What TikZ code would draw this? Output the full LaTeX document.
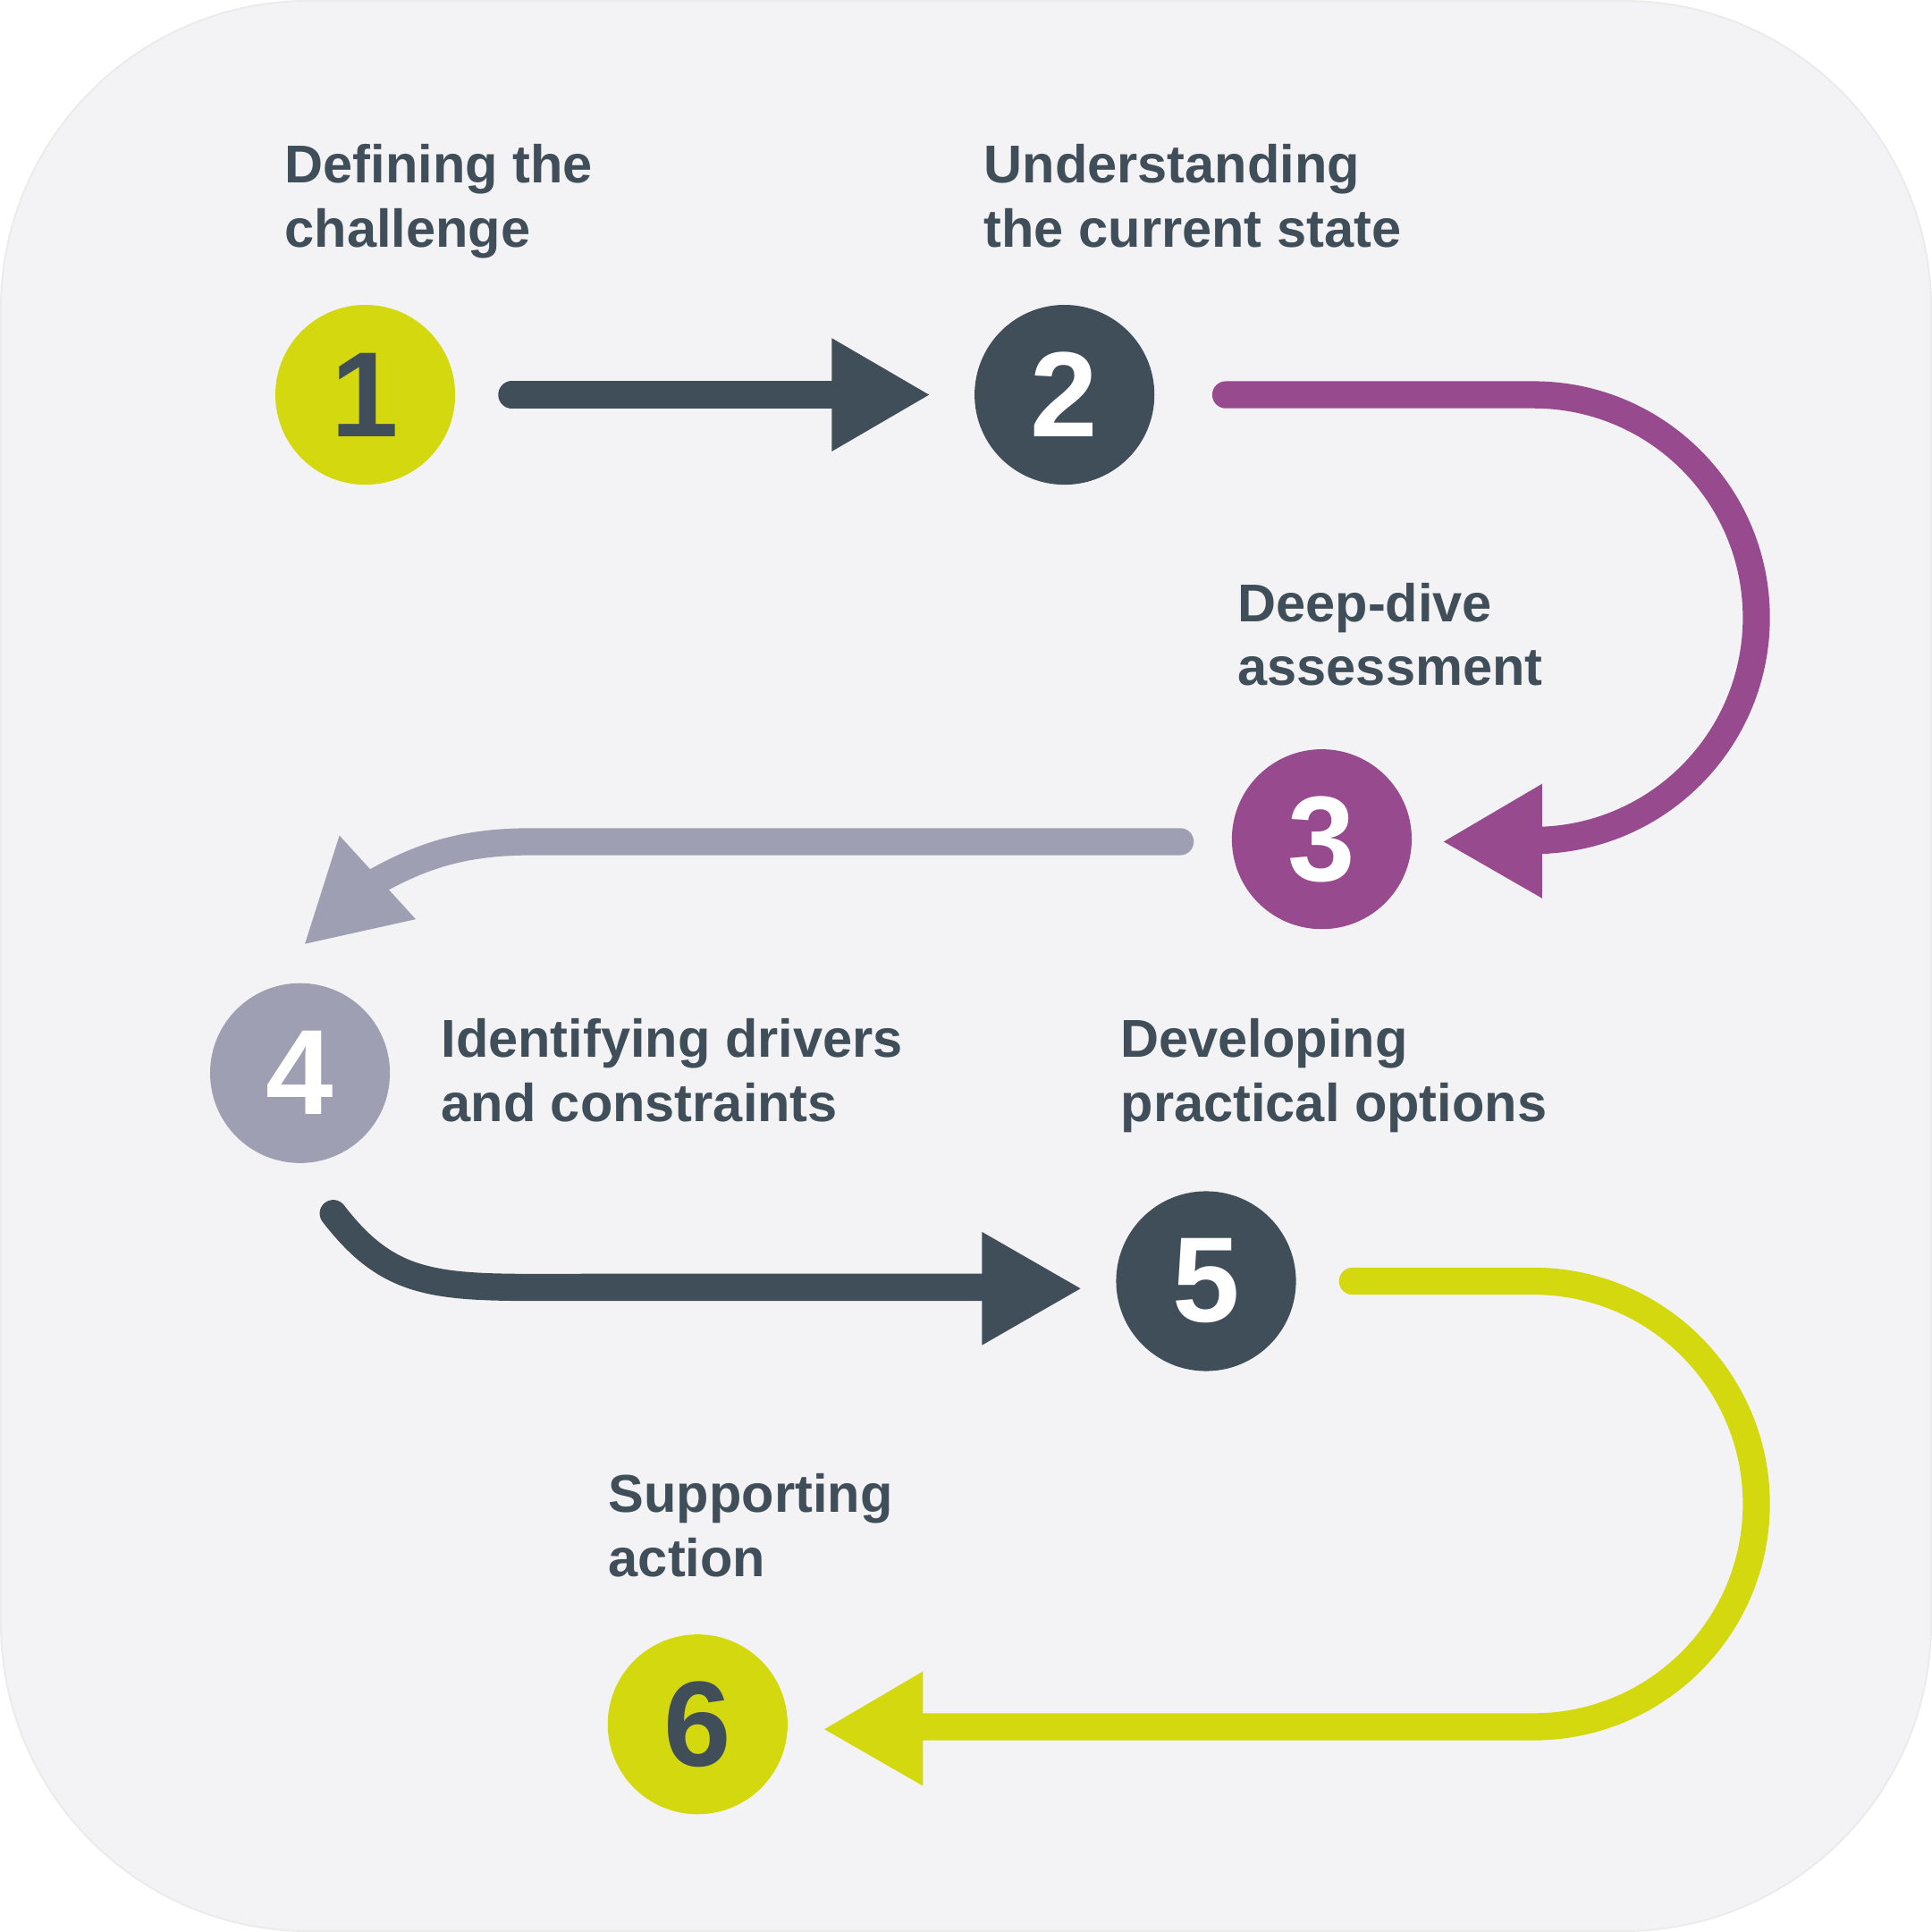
\documentclass[tikz,border=0pt]{standalone}
\usepackage{fontspec}
\setmainfont{Liberation Sans}
\begin{document}
\definecolor{bg}{HTML}{F3F3F5}
\definecolor{dk}{HTML}{3F4E58}
\definecolor{lm}{HTML}{D4D80E}
\definecolor{pu}{HTML}{974B8E}
\definecolor{gy}{HTML}{9F9FB3}
\begin{tikzpicture}[x=0.01cm,y=-0.01cm,
  num/.style={circle,minimum size=1.46cm,inner sep=0pt,font=\fontsize{28}{28}\selectfont\bfseries},
  lab/.style={anchor=north west,align=left,inner sep=0pt,text=dk,font=\fontsize{12.3}{14.8}\selectfont\bfseries},
  ln/.style={line width=0.22cm,line cap=round}]
\fill[bg,draw=black!8,rounded corners=2.5cm] (0,0) rectangle (1568,1568);
\useasboundingbox (0,0) rectangle (1568,1568);
\node[num,fill=lm,text=dk] (n1) at (296,320) {1};
\node[num,fill=dk,text=white] (n2) at (864,320) {2};
\node[num,fill=pu,text=white] (n3) at (1073,681) {3};
\node[num,fill=gy,text=white] (n4) at (243,871) {4};
\node[num,fill=dk,text=white] (n5) at (979,1040) {5};
\node[num,fill=lm,text=dk] (n6) at (566,1400) {6};
\node[lab] (l1) at (230,116) {Defining the\\challenge};
\node[lab] (l2) at (798,116) {Understanding\\the current state};
\node[lab] (l3) at (1004,472) {Deep-dive\\assessment};
\node[lab] (l4) at (357,826) {Identifying drivers\\and constraints};
\node[lab] (l5) at (909,826) {Developing\\practical options};
\node[lab] (l6) at (493,1196) {Supporting\\action};
% 1 -> 2
\coordinate (a1) at (415,320); \coordinate (a2) at (680,320);
\draw[ln,dk] (a1) -- (a2);
\fill[dk] (675,274) -- (754,320) -- (675,366) -- cycle;
% 2 -> 3
\coordinate (b1) at (995,320);
\draw[ln,pu] (b1) -- (1245,320) arc[start angle=-90,end angle=90,radius=181] -- (1255,682);
\fill[pu] (1252,636) -- (1172,683) -- (1252,729) -- cycle;
% 3 -> 4
\coordinate (c1) at (958,683);
\draw[ln,gy] (c1) -- (433,683) .. controls (380,683) and (345,692) .. (300,718);
\fill[gy] (275,678) -- (247,766) -- (337,746) -- cycle;
% 4 -> 5
\coordinate (d1) at (270,985);
\draw[ln,dk] (d1) .. controls (320,1050) and (360,1045) .. (480,1045) -- (800,1045);
\fill[dk] (797,1000) -- (877,1046) -- (797,1092) -- cycle;
% 5 -> 6
\coordinate (e1) at (1098,1040);
\draw[ln,lm] (e1) -- (1245,1040) arc[start angle=-90,end angle=90,radius=181] -- (745,1402);
\fill[lm] (749,1357) -- (669,1404) -- (749,1450) -- cycle;
\end{tikzpicture}
\end{document}
